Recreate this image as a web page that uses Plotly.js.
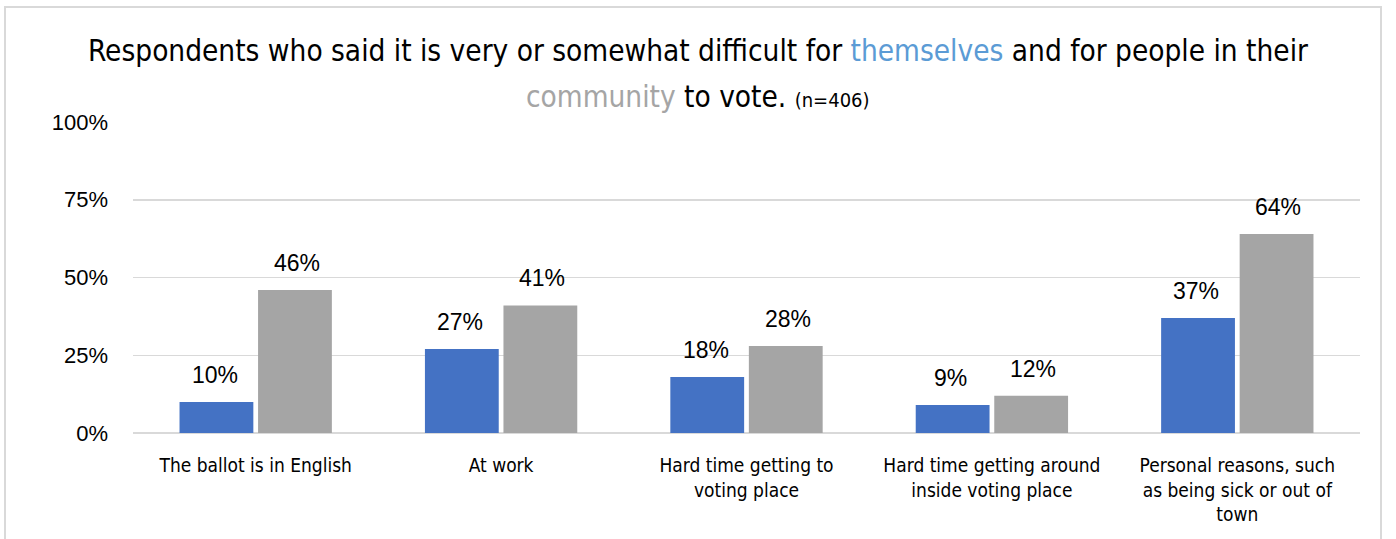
<!DOCTYPE html>
<html>
<head>
<meta charset="utf-8">
<script src="https://cdn.plot.ly/plotly-3.0.1.min.js"></script>
<style>
  html, body { margin: 0; padding: 0; background: #fff; }
  #wrap { position: relative; width: 1396px; height: 539px; overflow: hidden; }
  #chart { width: 1396px; height: 539px; }
  #frame { position: absolute; left: 4px; top: 6px; width: 1378px; height: 600px; border: 2px solid #d9d9d9; pointer-events: none; box-sizing: border-box; }
</style>
</head>
<body>
<div id="wrap">
  <div id="chart"></div>
  <div id="frame"></div>
</div>
<script>
const categories = [
  "The ballot is in English",
  "At work",
  "Hard time getting to<br>voting place",
  "Hard time getting around<br>inside voting place",
  "Personal reasons, such<br>as being sick or out of<br>town"
];
const themselves = [0.10, 0.27, 0.18, 0.09, 0.37];
const community = [0.46, 0.41, 0.28, 0.12, 0.64];
const yTickVals = [0, 0.25, 0.5, 0.75, 1];
const yTickText = ["0%", "25%", "50%", "75%", "100%"];
const titleLine1 = 'Respondents who said it is very or somewhat difficult for <span style="color:#5B9BD5">themselves</span> and for people in their';
const titleLine2 = '<span style="color:#A5A5A5">community</span> to vote. <span style="font-size:20px">(n=406)</span>';

const blue = "#4472C4";
const gray = "#A5A5A5";
const narrow = '"Liberation Sans Narrow", "DejaVu Sans Condensed", "Liberation Sans", sans-serif';
const sans = '"Liberation Sans", Arial, sans-serif';

const traces = [
  { type: "bar", name: "Themselves", x: categories, y: themselves, marker: { color: blue }, hoverinfo: "y" },
  { type: "bar", name: "Community", x: categories, y: community, marker: { color: gray }, hoverinfo: "y" }
];

const annotations = [];
[themselves, community].forEach((series, si) => {
  series.forEach((v, i) => {
    annotations.push({
      x: categories[i], y: v, xref: "x", yref: "y",
      text: Math.round(v * 100) + "%",
      showarrow: false, yanchor: "bottom",
      xshift: si === 0 ? -41 : 41, yshift: 12,
      font: { family: sans, size: 23, color: "#000" }
    });
  });
});
annotations.push({
  text: titleLine1, xref: "paper", yref: "paper", x: 0.4605, y: 1.2283,
  xanchor: "center", yanchor: "middle", showarrow: false,
  font: { family: narrow, size: 29.5, color: "#000" }
});
annotations.push({
  text: titleLine2, xref: "paper", yref: "paper", x: 0.4605, y: 1.0804,
  xanchor: "center", yanchor: "middle", showarrow: false,
  font: { family: narrow, size: 29.5, color: "#000" }
});

const layout = {
  width: 1396, height: 539,
  margin: { l: 133, r: 36, t: 122, b: 106 },
  paper_bgcolor: "#fff", plot_bgcolor: "#fff",
  showlegend: false,
  barmode: "group", bargap: 0.36, bargroupgap: 0.06,
  xaxis: {
    type: "category",
    tickfont: { family: narrow, size: 19, color: "#000" },
    showgrid: false, showline: false, ticks: "", ticklen: 0,
    ticklabelstandoff: 19,
    automargin: false
  },
  yaxis: {
    range: [0, 1], tickvals: yTickVals, ticktext: yTickText,
    tickfont: { family: sans, size: 22, color: "#000" },
    showgrid: true, gridcolor: "#d9d9d9", gridwidth: 1.5,
    zeroline: true, zerolinecolor: "#d9d9d9", zerolinewidth: 2,
    showline: false, ticks: "", ticklabelstandoff: 24,
    automargin: false, fixedrange: true
  },
  annotations: annotations
};

Plotly.newPlot("chart", traces, layout, { displayModeBar: false, staticPlot: true });
</script>
</body>
</html>
